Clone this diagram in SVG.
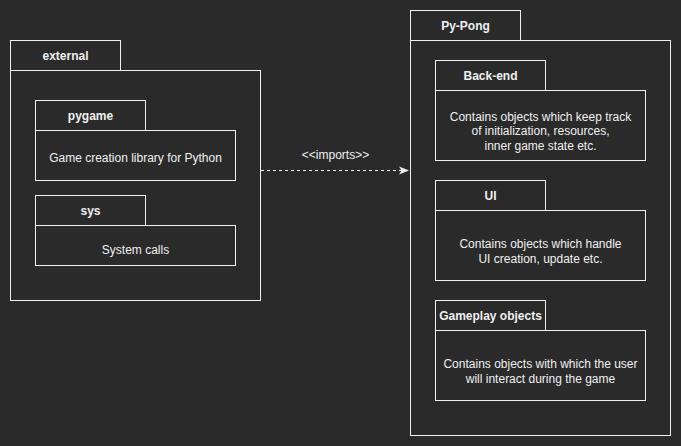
<svg xmlns="http://www.w3.org/2000/svg" width="681" height="446" viewBox="0 0 681 446">
<defs>
<style>
.box{fill:none;stroke:#f0f0f0;stroke-width:1}
.tab{font-family:"Liberation Sans",Arial,sans-serif;font-size:12px;font-weight:bold;fill:#f0f0f0;text-anchor:middle}
.txt{font-family:"Liberation Sans",Arial,sans-serif;font-size:12px;fill:#f0f0f0;text-anchor:middle}
.edge{fill:none;stroke:#f0f0f0;stroke-width:1;stroke-dasharray:3 3}
</style>
<marker id="arr" viewBox="0 0 10 10" refX="10" refY="5" markerWidth="10" markerHeight="10" markerUnits="userSpaceOnUse" orient="auto">
<path d="M0,1 L10,5 L0,9 L2.5,5 Z" fill="#f0f0f0"/>
</marker>
</defs>
<rect width="681" height="446" fill="#2a2a2a"/>
<g id="external">
<rect class="box" x="10.5" y="40.5" width="110" height="30"/>
<rect class="box" x="10.5" y="70.5" width="250" height="230"/>
<text class="tab" x="65.5" y="59.5">external</text>
</g>
<g id="pygame">
<rect class="box" x="35.5" y="100.5" width="110" height="30"/>
<rect class="box" x="35.5" y="130.5" width="200" height="50"/>
<text class="tab" x="90.5" y="119.5">pygame</text>
<text class="txt" x="135.5" y="161.5">Game creation library for Python</text>
</g>
<g id="sys">
<rect class="box" x="35.5" y="195.5" width="110" height="30"/>
<rect class="box" x="35.5" y="225.5" width="200" height="40"/>
<text class="tab" x="90.5" y="214.5">sys</text>
<text class="txt" x="135.5" y="253.5">System calls</text>
</g>
<g id="py-pong">
<rect class="box" x="410.5" y="10.5" width="110" height="30"/>
<rect class="box" x="410.5" y="40.5" width="260" height="395"/>
<text class="tab" x="465.5" y="29.5">Py-Pong</text>
</g>
<g id="back-end">
<rect class="box" x="435.5" y="60.5" width="110" height="30"/>
<rect class="box" x="435.5" y="90.5" width="210" height="70"/>
<text class="tab" x="490.5" y="79.5">Back-end</text>
<text class="txt" x="540.5" y="121">Contains objects which keep track</text>
<text class="txt" x="540.5" y="135">of initialization, resources,</text>
<text class="txt" x="540.5" y="150">inner game state etc.</text>
</g>
<g id="ui">
<rect class="box" x="435.5" y="180.5" width="110" height="30"/>
<rect class="box" x="435.5" y="210.5" width="210" height="70"/>
<text class="tab" x="490.5" y="199.5">UI</text>
<text class="txt" x="540.5" y="248">Contains objects which handle</text>
<text class="txt" x="540.5" y="263">UI creation, update etc.</text>
</g>
<g id="gameplay">
<rect class="box" x="435.5" y="300.5" width="110" height="30"/>
<rect class="box" x="435.5" y="330.5" width="210" height="70"/>
<text class="tab" x="490.5" y="319.5">Gameplay objects</text>
<text class="txt" x="540.5" y="368">Contains objects with which the user</text>
<text class="txt" x="540.5" y="383">will interact during the game</text>
</g>
<g id="connectors">
<path class="edge" d="M261,170.5 L409,170.5" marker-end="url(#arr)"/>
<text class="txt" x="335.5" y="158.5">&lt;&lt;imports&gt;&gt;</text>
</g>
</svg>
